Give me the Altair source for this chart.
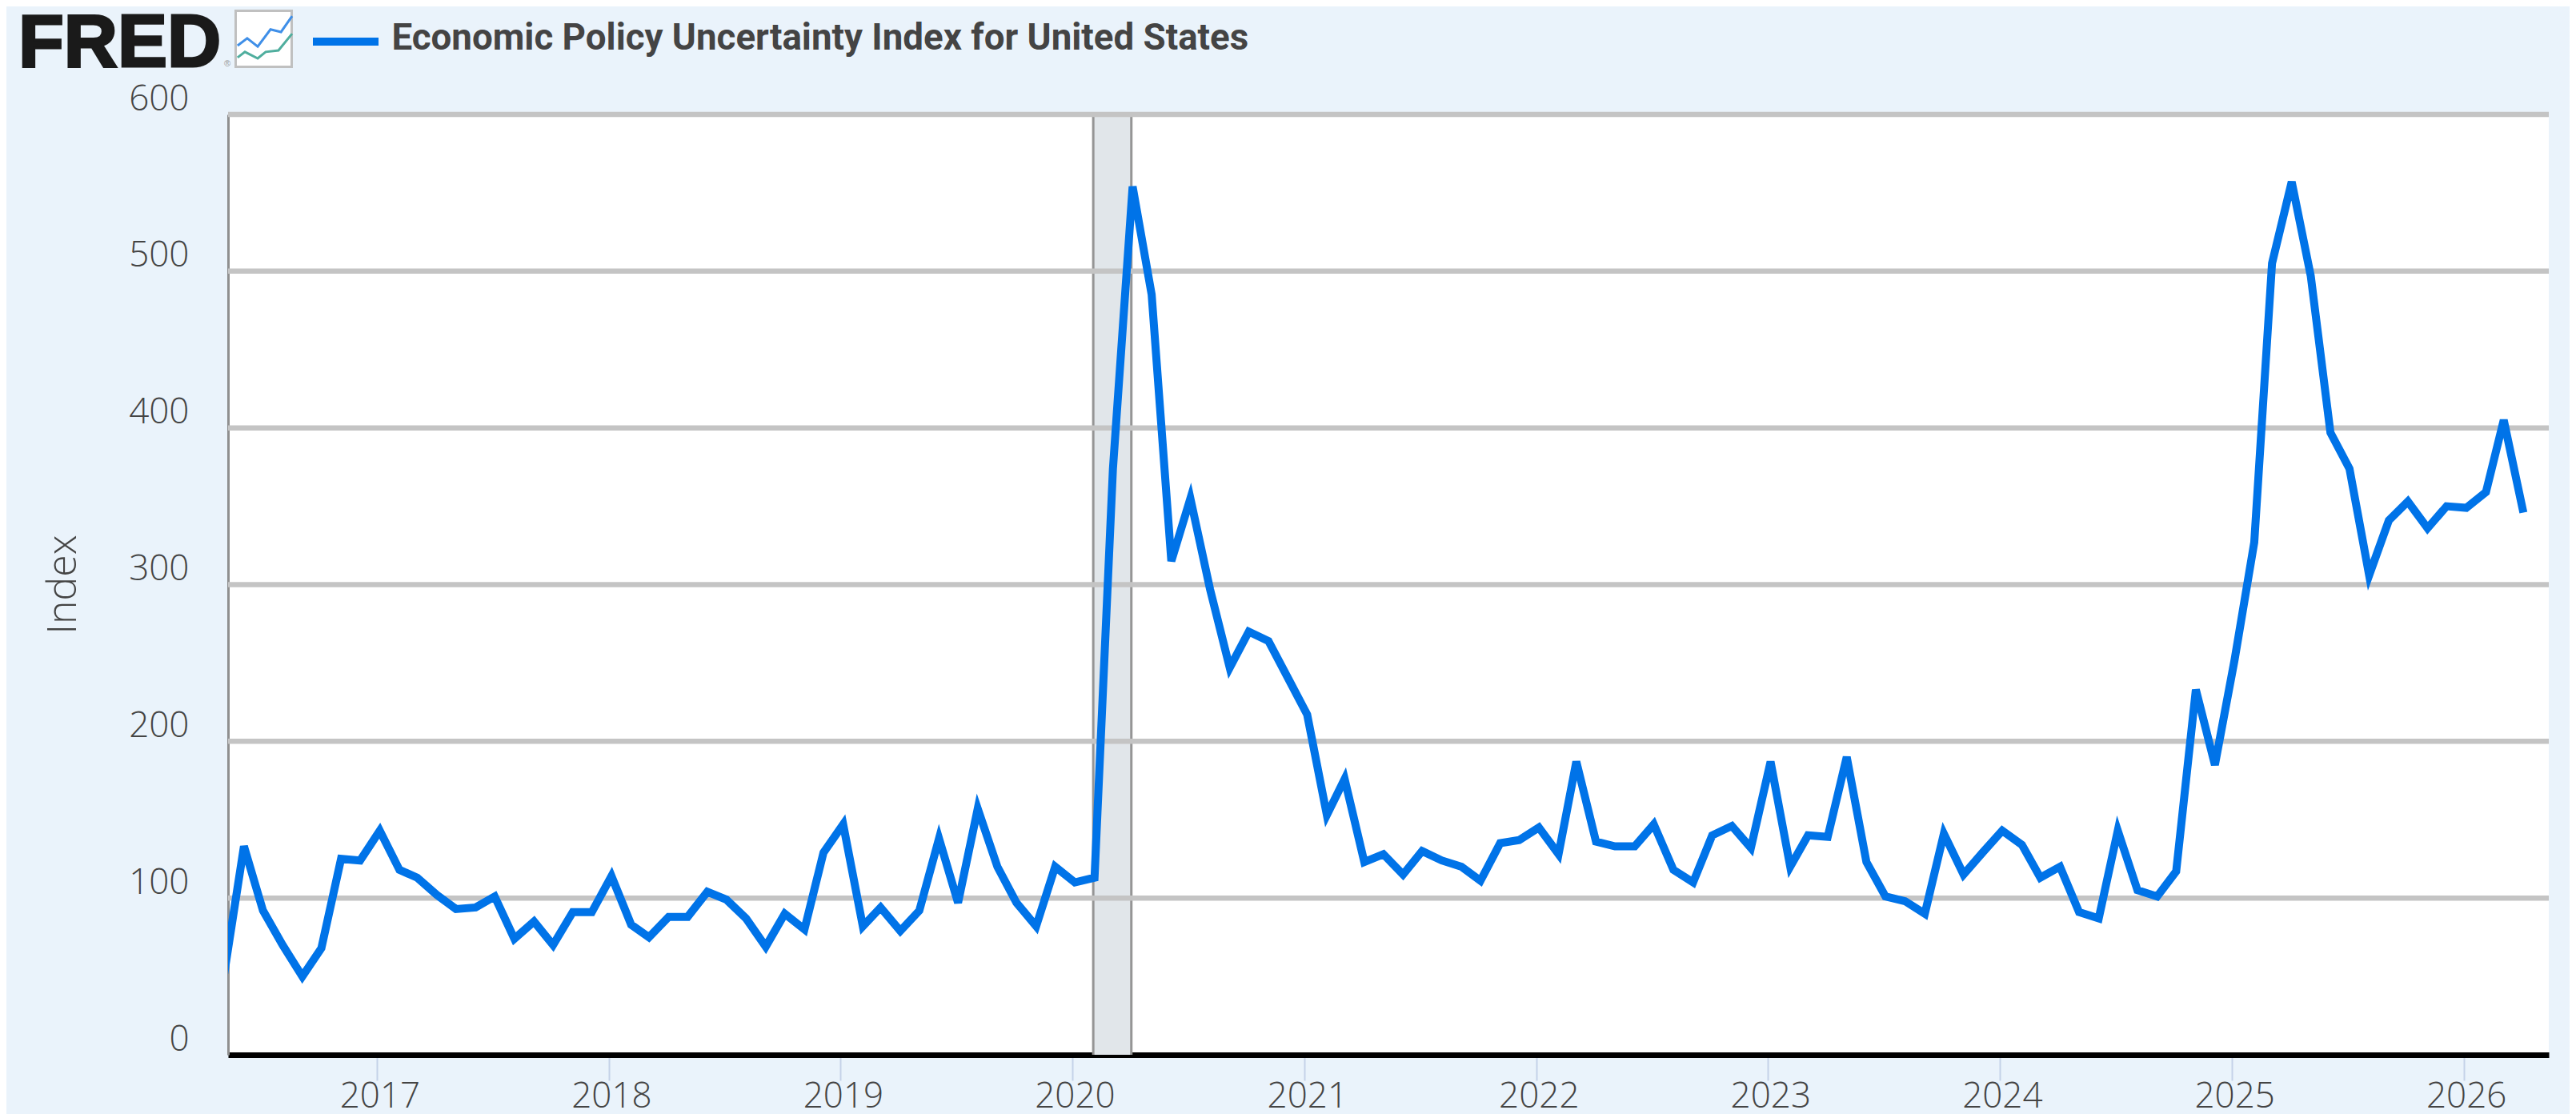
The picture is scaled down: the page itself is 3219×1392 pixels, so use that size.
import altair as alt
import pandas as pd

# Economic Policy Uncertainty Index, monthly, May 2016 .. Apr 2026
values_2016 = [52, 133, 92, 70, 50, 68, 125, 124]
values_2017 = [143, 118, 113, 102, 93, 94, 101, 74, 85, 70, 91, 91]
values_2018 = [114, 83, 75, 88, 88, 104, 99, 87, 69, 90, 80, 129]
values_2019 = [147, 82, 94, 79, 92, 138, 97, 157, 120, 97, 82, 120]
values_2020 = [110, 113, 374, 554, 485, 315, 355, 297, 247, 270, 264, 241]
values_2021 = [217, 153, 176, 123, 128, 115, 130, 124, 120, 111, 135, 137]
values_2022 = [145, 128, 187, 136, 133, 133, 147, 118, 110, 140, 146, 132]
values_2023 = [187, 120, 140, 139, 190, 123, 101, 98, 90, 141, 115, 129]
values_2024 = [143, 134, 113, 120, 91, 87, 143, 105, 101, 117, 233, 185]
values_2025 = [252, 327, 505, 557, 497, 397, 374, 306, 341, 353, 336, 350]
values_2026 = [349, 359, 405, 346]
series = (values_2016 + values_2017 + values_2018 + values_2019 + values_2020
          + values_2021 + values_2022 + values_2023 + values_2024 + values_2025 + values_2026)
months = pd.date_range("2016-05-01", periods=len(series), freq="MS").strftime("%Y-%m-%d").tolist()

tick_dates = ["2016-12-28", "2017-12-28", "2018-12-28", "2019-12-28", "2020-12-28",
              "2021-12-28", "2022-12-28", "2023-12-28", "2024-12-28", "2025-12-28"]
y_ticks = [0, 100, 200, 300, 400, 500, 600]
x_domain = ["2016-05-07", "2026-05-11"]
recession_start = "2020-01-30"
recession_end = "2020-03-30"
title_text = "Economic Policy Uncertainty Index for United States"
y_title = "Index"
logo_text = "FRED"

BG = "#eaf3fb"
BLUE = "#0073e8"
TXT = "#444444"
FONT = "Open Sans"

df = pd.DataFrame({"date": months, "value": series})
x_enc = alt.X(
    "date:T",
    scale=alt.Scale(type="utc", domain=x_domain),
    axis=alt.Axis(
        values=tick_dates,
        labelExpr="utcyear(datum.value) + 1",
        title=None, grid=False,
        domainColor="#000000", domainWidth=7,
        tickColor="#c5d2e8", tickWidth=2, tickSize=32,
        labelFont=FONT, labelFontSize=44, labelFontWeight=300, labelColor=TXT,
        labelPadding=33, labelBaseline="alphabetic", labelOffset=3,
        labelFlush=False, labelOverlap=False,
    ),
)
y_enc = alt.Y(
    "value:Q",
    scale=alt.Scale(domain=[0, 600], nice=False),
    axis=alt.Axis(
        values=y_ticks, grid=False, ticks=False,
        title=y_title, titleFont=FONT, titleFontSize=50, titleFontWeight=300,
        titleColor=TXT, titleX=-191, titleY=587, titleAngle=270,
        titleAlign="center", titleBaseline="alphabetic",
        domainColor="#8f8f8f", domainWidth=3,
        labelFont=FONT, labelFontSize=44, labelFontWeight=300, labelColor=TXT,
        labelPadding=49, labelBaseline="alphabetic", labelOffset=-6,
        labelFlush=False, labelOverlap=False,
    ),
)

rec = pd.DataFrame({"start": [recession_start], "end": [recession_end]})
band = alt.Chart(rec).mark_rect(color="#e1e6ea").encode(
    x=alt.X("start:T", scale=alt.Scale(type="utc", domain=x_domain)), x2="end:T")
band_a = alt.Chart(rec).mark_rule(color="#959595", strokeWidth=3).encode(x="start:T")
band_b = alt.Chart(rec).mark_rule(color="#959595", strokeWidth=3).encode(x="end:T")

grid = alt.Chart(pd.DataFrame({"g": y_ticks[1:]})).mark_rule(
    color="#c4c4c4", strokeWidth=6.5
).encode(y=alt.Y("g:Q", scale=alt.Scale(domain=[0, 600], nice=False)))

line = alt.Chart(df).mark_line(
    color=BLUE, strokeWidth=10, strokeJoin="miter", strokeCap="butt", clip=True
).encode(x=x_enc, y=y_enc)

# header: logo, icon, legend (positions relative to the plot origin at 285,143)
logo = alt.Chart(pd.DataFrame({"t": [logo_text]})).mark_text(
    align="left", baseline="alphabetic", font="Liberation Sans", fontWeight="bold",
    fontSize=93, color="#1a1a1a", stroke="#1a1a1a", strokeWidth=3,
).encode(x=alt.value(-262), y=alt.value(-60), text="t:N")
reg = alt.Chart(pd.DataFrame({"t": ["®"]})).mark_text(
    align="left", baseline="alphabetic", font="Liberation Sans", fontSize=11, color="#999999",
).encode(x=alt.value(-5), y=alt.value(-60), text="t:N")

icon_box = alt.Chart(pd.DataFrame({"a": [1]})).mark_point(
    shape="M-1,-1L1,-1L1,1L-1,1Z", size=4900, filled=True, fill="#ffffff",
    stroke="#c0c0c0", strokeWidth=3, opacity=1,
).encode(x=alt.value(44.5), y=alt.value(-94.5))
icon_blue = alt.Chart(pd.DataFrame({"a": [1]})).mark_point(
    shape="M-.92,.24L-.58,-.02L-.21,.27L.24,-.33L.61,-.24L1,-.8",
    size=5041, filled=False, stroke="#3f8fe8", strokeWidth=3, opacity=1,
).encode(x=alt.value(44.5), y=alt.value(-94.5))
icon_teal = alt.Chart(pd.DataFrame({"a": [1]})).mark_point(
    shape="M-.92,.66L-.66,.46L-.21,.69L.07,.46L.52,.41L1,-.18",
    size=5041, filled=False, stroke="#4fae9e", strokeWidth=3, opacity=1,
).encode(x=alt.value(44.5), y=alt.value(-94.5))

leg_line = alt.Chart(pd.DataFrame({"a": [1]})).mark_rule(color=BLUE, strokeWidth=10).encode(
    x=alt.value(106), x2=alt.value(188), y=alt.value(-91))
leg_text = alt.Chart(pd.DataFrame({"t": [title_text]})).mark_text(
    align="left", baseline="alphabetic", font="Roboto", fontWeight="bold",
    fontSize=45.7, color=TXT,
).encode(x=alt.value(204.5), y=alt.value(-81), text="t:N")

chart = alt.layer(
    band, band_a, band_b, grid, line, logo, reg, icon_box, icon_blue, icon_teal, leg_line, leg_text
).properties(
    width=2900, height=1175, background=BG,
    padding={"left": 277, "top": 135, "right": 26, "bottom": 74},
    autosize=alt.AutoSizeParams(type="none"),
).configure_view(fill="#ffffff", stroke=None)

chart.save("out.html", embed_options={"renderer": "svg", "actions": False})
